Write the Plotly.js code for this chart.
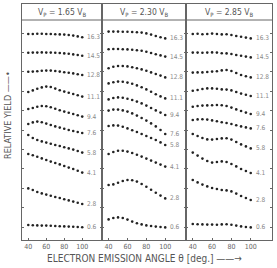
<!DOCTYPE html>
<html><head><meta charset="utf-8">
<script src="https://cdn.plot.ly/plotly-3.0.1.min.js"></script>
<style>html,body{margin:0;padding:0;background:#fff}#chart{width:277px;height:268px}</style>
</head><body><div id="chart"></div>
<script>
// Electron emission angle (deg)
const angles = [40,45,50,55,60,65,70,75,80,85,90,95,100];
// Curve labels (energies), top to bottom
const curveLabels = ['16.3','14.5','12.8','11.1','9.4','7.6','5.8','4.1','2.8','0.6'];
const panelTitles = ['V<sub>P</sub> = 1.65 V<sub>B</sub>','V<sub>P</sub> = 2.30 V<sub>B</sub>','V<sub>P</sub> = 2.85 V<sub>B</sub>'];
const xTickVals = [40,60,80,100];

// Relative yield (offset curves), panel 1: Vp = 1.65 VB
const yieldP1 = [
  [10.30,10.30,10.31,10.31,10.30,10.30,10.29,10.28,10.27,10.25,10.22,10.18,10.14],
  [9.36,9.37,9.37,9.38,9.37,9.37,9.36,9.35,9.33,9.31,9.28,9.25,9.21],
  [8.41,8.42,8.44,8.46,8.47,8.47,8.45,8.42,8.39,8.36,8.33,8.29,8.25],
  [7.40,7.48,7.56,7.63,7.67,7.65,7.57,7.49,7.42,7.36,7.30,7.24,7.17],
  [6.55,6.60,6.66,6.70,6.69,6.64,6.56,6.49,6.42,6.36,6.30,6.24,6.17],
  [5.80,5.88,5.92,5.89,5.82,5.75,5.68,5.62,5.56,5.50,5.45,5.40,5.35],
  [5.25,5.10,5.00,4.93,4.87,4.81,4.75,4.70,4.64,4.58,4.52,4.45,4.37],
  [4.30,4.24,4.16,4.08,4.00,3.92,3.85,3.78,3.70,3.62,3.55,3.46,3.37],
  [2.58,2.50,2.40,2.33,2.27,2.21,2.15,2.10,2.04,1.98,1.92,1.86,1.80],
  [0.75,0.74,0.73,0.72,0.72,0.71,0.70,0.69,0.68,0.67,0.66,0.65,0.64]
];
// panel 2: Vp = 2.30 VB
const yieldP2 = [
  [10.42,10.42,10.42,10.41,10.41,10.40,10.39,10.37,10.33,10.27,10.20,10.14,10.08],
  [9.54,9.55,9.55,9.54,9.53,9.51,9.49,9.46,9.41,9.35,9.29,9.23,9.17],
  [8.59,8.66,8.70,8.70,8.68,8.64,8.59,8.53,8.46,8.38,8.30,8.22,8.13],
  [7.83,7.89,7.92,7.91,7.87,7.81,7.73,7.64,7.53,7.41,7.29,7.18,7.08],
  [7.03,7.10,7.13,7.11,7.06,7.00,6.92,6.83,6.72,6.60,6.48,6.37,6.25],
  [6.47,6.52,6.52,6.48,6.42,6.33,6.22,6.10,5.97,5.83,5.68,5.50,5.30],
  [5.70,5.73,5.72,5.66,5.58,5.49,5.40,5.30,5.20,5.10,5.00,4.88,4.75],
  [4.30,4.40,4.46,4.46,4.42,4.35,4.26,4.17,4.07,3.97,3.87,3.77,3.67],
  [2.75,2.78,2.86,2.95,3.00,2.99,2.92,2.80,2.66,2.51,2.36,2.22,2.08],
  [1.03,1.10,1.13,1.10,1.02,0.92,0.84,0.78,0.73,0.70,0.67,0.65,0.63]
];
// panel 3: Vp = 2.85 VB
const yieldP3 = [
  [10.30,10.31,10.29,10.30,10.32,10.30,10.28,10.29,10.25,10.20,10.16,10.12,10.08],
  [9.37,9.37,9.36,9.37,9.38,9.37,9.34,9.33,9.30,9.25,9.21,9.17,9.13],
  [8.37,8.38,8.38,8.40,8.42,8.44,8.48,8.50,8.45,8.35,8.25,8.19,8.13],
  [7.46,7.50,7.55,7.58,7.58,7.56,7.53,7.52,7.48,7.40,7.32,7.26,7.20],
  [6.66,6.70,6.72,6.73,6.74,6.75,6.74,6.70,6.62,6.53,6.45,6.37,6.30],
  [6.00,6.03,6.04,6.02,5.98,5.94,5.89,5.85,5.80,5.74,5.68,5.63,5.58],
  [5.30,5.20,5.10,5.03,5.02,5.05,5.08,5.09,5.02,4.90,4.78,4.68,4.58],
  [4.37,4.22,4.07,3.95,3.87,3.90,3.93,3.90,3.80,3.68,3.55,3.45,3.35],
  [3.00,2.88,2.77,2.68,2.60,2.55,2.50,2.48,2.43,2.32,2.20,2.10,2.00],
  [0.80,0.79,0.78,0.77,0.77,0.76,0.78,0.79,0.76,0.72,0.68,0.65,0.63]
];

const panels = [yieldP1, yieldP2, yieldP3];
const axisIds = ['', '2', '3'];
const domains = [[0, 0.32], [0.32, 0.656], [0.656, 1]];
const lineCol = '#666';
const txtCol = '#666';
const font = 'DejaVu Sans Condensed, Liberation Sans Narrow, Arial Narrow, sans-serif';

const traces = [];
const annotations = [];
panels.forEach((p, pi) => {
  const id = axisIds[pi];
  p.forEach((ys, ci) => {
    traces.push({
      x: angles, y: ys, type: 'scatter', mode: 'markers',
      xaxis: 'x' + id, yaxis: 'y' + id,
      marker: {size: 2.6, color: '#222'}, hoverinfo: 'skip', showlegend: false
    });
    annotations.push({
      xref: 'x' + id, yref: 'y' + id, x: 103, y: ys[ys.length - 1],
      text: curveLabels[ci], showarrow: false, xanchor: 'left', yanchor: 'middle',
      font: {size: 6.5, color: '#888', family: font}
    });
  });
  annotations.push({
    xref: 'x' + id + ' domain', yref: 'y' + id, x: 0.5, y: 11.4,
    text: panelTitles[pi], showarrow: false, xanchor: 'center', yanchor: 'middle',
    font: {size: 8.5, color: '#555', family: font}
  });
});
annotations.push({
  xref: 'paper', yref: 'paper', x: 0.49, y: -0.08, xanchor: 'center', yanchor: 'middle',
  text: 'ELECTRON EMISSION ANGLE θ [deg.] ——→', showarrow: false,
  font: {size: 10, color: '#555', family: font}
});
annotations.push({
  xref: 'paper', yref: 'paper', x: -0.056, y: 0.53, xanchor: 'center', yanchor: 'middle',
  text: 'RELATIVE YIELD ——•', showarrow: false, textangle: -90,
  font: {size: 9, color: '#555', family: font}
});

const layout = {
  width: 277, height: 268,
  margin: {l: 22, r: 5, t: 4, b: 28},
  paper_bgcolor: '#fff', plot_bgcolor: '#fff',
  showlegend: false,
  annotations: annotations,
  shapes: [{type: 'line', xref: 'paper', yref: 'y', x0: 0, x1: 1, y0: 11, y1: 11,
            line: {color: lineCol, width: 1}}]
};
const yTicks = [0.65, 1.62, 2.59, 3.56, 4.53, 5.5, 6.47, 7.44, 8.41, 9.38, 10.35];
panels.forEach((p, pi) => {
  const id = axisIds[pi];
  layout['xaxis' + id] = {
    domain: domains[pi], range: [33, 122], anchor: 'y' + id,
    tickvals: xTickVals, ticks: 'inside', ticklen: 2, tickcolor: lineCol,
    showline: true, linecolor: lineCol, linewidth: 1, mirror: true,
    showgrid: false, zeroline: false,
    tickfont: {size: 7, color: txtCol, family: font}
  };
  layout['yaxis' + id] = {
    domain: [0, 1], range: [0, 11.8], anchor: 'x' + id,
    tickvals: yTicks, ticks: 'inside', ticklen: 2, tickcolor: lineCol,
    showticklabels: false,
    showline: true, linecolor: lineCol, linewidth: 1, mirror: 'ticks',
    showgrid: false, zeroline: false
  };
});
Plotly.newPlot('chart', traces, layout, {displayModeBar: false, staticPlot: true});
</script></body></html>
